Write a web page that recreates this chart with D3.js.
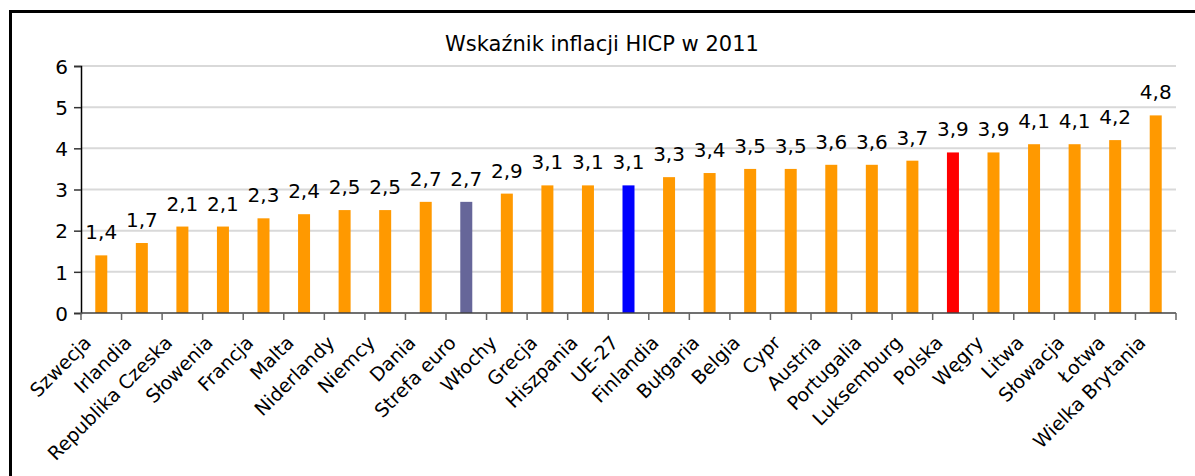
<html>
<head>
    <meta charset="utf-8">
    <title>Wskaźnik inflacji HICP w 2011</title>
    <script src="https://d3js.org/d3.v7.min.js" charset="utf-8"></script>
    <style>
        body { margin: 0; background: #fff; }
        text { font-family: "DejaVu Sans", Verdana, sans-serif; fill: #000; }
    </style>
</head>
<body>
    <div id="chart"></div>
    <script>
        const countries = ["Szwecja", "Irlandia", "Republika Czeska", "Słowenia", "Francja", "Malta",
            "Niderlandy", "Niemcy", "Dania", "Strefa euro", "Włochy", "Grecja", "Hiszpania", "UE-27",
            "Finlandia", "Bułgaria", "Belgia", "Cypr", "Austria", "Portugalia", "Luksemburg", "Polska",
            "Węgry", "Litwa", "Słowacja", "Łotwa", "Wielka Brytania"];
        const inflation = [1.4, 1.7, 2.1, 2.1, 2.3, 2.4, 2.5, 2.5, 2.7, 2.7, 2.9, 3.1, 3.1, 3.1,
            3.3, 3.4, 3.5, 3.5, 3.6, 3.6, 3.7, 3.9, 3.9, 4.1, 4.1, 4.2, 4.8];
        const yTicks = [0, 1, 2, 3, 4, 5, 6];
        const highlight = {"Strefa euro": "#666699", "UE-27": "#0000ff", "Polska": "#ff0000"};

        let width = 1195,
            height = 476,
            plotLeft = 81,
            plotRight = 1176,
            plotTop = 66,
            plotBottom = 313;

        let svg = d3.select("#chart")
            .append("svg")
            .attr("width", width)
            .attr("height", height);

        // frame (runs off the right and bottom edge)
        svg.append("rect")
            .attr("x", 10.5)
            .attr("y", 11.5)
            .attr("width", 1300)
            .attr("height", 600)
            .attr("fill", "none")
            .attr("stroke", "#000")
            .attr("stroke-width", 3);

        let x = d3.scaleBand().domain(countries).range([plotLeft, plotRight]);
        let y = d3.scaleLinear().domain([0, 6]).range([plotBottom, plotTop]);

        // grid
        svg.selectAll(".grid")
            .data(yTicks.filter(d => d > 0))
            .enter()
            .append("line")
            .attr("x1", plotLeft)
            .attr("x2", plotRight)
            .attr("y1", d => y(d))
            .attr("y2", d => y(d))
            .attr("stroke", "#d9d9d9")
            .attr("stroke-width", 2);

        svg.append("text")
            .attr("x", 602)
            .attr("y", 51)
            .attr("text-anchor", "middle")
            .style("font-size", "21px")
            .text("Wskaźnik inflacji HICP w 2011");

        // bars
        let barW = 12;
        svg.selectAll(".bar")
            .data(countries)
            .enter()
            .append("rect")
            .attr("x", d => x(d) + x.bandwidth() / 2 - barW / 2)
            .attr("y", (d, i) => y(inflation[i]))
            .attr("width", barW)
            .attr("height", (d, i) => plotBottom - y(inflation[i]))
            .attr("fill", d => highlight[d] || "#ff9900");

        svg.selectAll(".val")
            .data(countries)
            .enter()
            .append("text")
            .attr("x", d => x(d) + x.bandwidth() / 2)
            .attr("y", (d, i) => y(inflation[i]) - 16)
            .attr("text-anchor", "middle")
            .style("font-size", "20px")
            .text((d, i) => String(inflation[i]).replace(".", ","));

        // y axis
        let yAxis = svg.append("g")
            .attr("transform", `translate(${plotLeft},0)`)
            .call(d3.axisLeft(y).tickValues(yTicks).tickFormat(d3.format("d")).tickSize(7).tickPadding(6));
        yAxis.select(".domain").attr("stroke", "#000").attr("stroke-width", 1.5);
        yAxis.selectAll(".tick line").attr("stroke", "#333").attr("stroke-width", 1.5);
        yAxis.selectAll(".tick text")
            .style("font-size", "20px")
            .attr("dy", "0.36em")
            .style("font-family", "DejaVu Sans, Verdana, sans-serif");

        // x axis
        let xAxis = svg.append("g")
            .attr("transform", `translate(0,${plotBottom})`);
        xAxis.append("line")
            .attr("x1", plotLeft)
            .attr("x2", plotRight)
            .attr("stroke", "#404040")
            .attr("stroke-width", 1.5);
        xAxis.selectAll(".xt")
            .data(countries.concat(["_end"]))
            .enter()
            .append("line")
            .attr("x1", (d, i) => i < countries.length ? x(d) : plotRight)
            .attr("x2", (d, i) => i < countries.length ? x(d) : plotRight)
            .attr("y1", 0)
            .attr("y2", 7)
            .attr("stroke", "#666")
            .attr("stroke-width", 1.5);

        svg.selectAll(".cat")
            .data(countries)
            .enter()
            .append("text")
            .attr("text-anchor", "end")
            .style("font-size", "19px")
            .attr("transform", d => `translate(${x(d) + x.bandwidth() / 2 - 9},${plotBottom + 31}) rotate(-45)`)
            .text(d => d);
    </script>
</body>
</html>
